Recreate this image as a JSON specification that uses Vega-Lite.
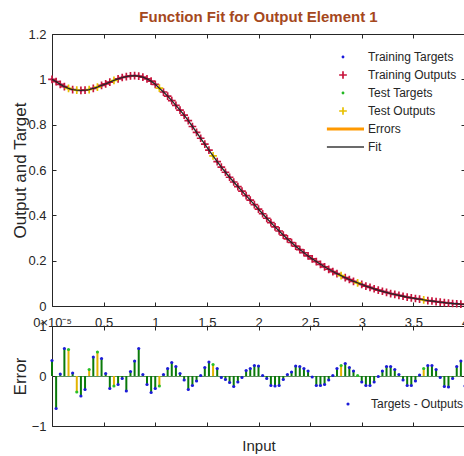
{
  "$schema": "https://vega.github.io/schema/vega-lite/v6.json",
  "padding": {"left": 10, "top": 9, "right": 0, "bottom": 0},
  "background": "white",
  "config": {
    "view": {"stroke": "#262626", "strokeWidth": 1},
    "axis": {"labelColor": "#262626", "tickColor": "#262626", "titleColor": "#262626", "labelFont": "Liberation Sans", "labelFontSize": 13, "titleFont": "Liberation Sans", "titleFontWeight": "normal", "titleFontSize": 17, "grid": false, "domain": false, "tickSize": -4, "tickWidth": 1}
  },
  "datasets": {
    "pts": [
      {"x": 0, "t": 1.000, "e": 0.31, "s": "train"},
      {"x": 0.04, "t": 0.990, "e": -0.65, "s": "train"},
      {"x": 0.08, "t": 0.978, "e": 0.04, "s": "train"},
      {"x": 0.12, "t": 0.968, "e": 0.55, "s": "train"},
      {"x": 0.16, "t": 0.960, "e": 0.53, "s": "test"},
      {"x": 0.2, "t": 0.955, "e": 0.06, "s": "train"},
      {"x": 0.24, "t": 0.952, "e": -0.32, "s": "test"},
      {"x": 0.28, "t": 0.951, "e": -0.40, "s": "train"},
      {"x": 0.32, "t": 0.952, "e": -0.27, "s": "train"},
      {"x": 0.36, "t": 0.955, "e": 0.13, "s": "test"},
      {"x": 0.4, "t": 0.960, "e": 0.38, "s": "train"},
      {"x": 0.44, "t": 0.966, "e": 0.48, "s": "test"},
      {"x": 0.48, "t": 0.973, "e": 0.35, "s": "train"},
      {"x": 0.52, "t": 0.980, "e": 0.05, "s": "train"},
      {"x": 0.56, "t": 0.988, "e": -0.25, "s": "train"},
      {"x": 0.6, "t": 0.995, "e": -0.20, "s": "test"},
      {"x": 0.64, "t": 1.002, "e": -0.17, "s": "train"},
      {"x": 0.68, "t": 1.008, "e": -0.05, "s": "train"},
      {"x": 0.72, "t": 1.012, "e": -0.30, "s": "train"},
      {"x": 0.76, "t": 1.015, "e": 0.09, "s": "train"},
      {"x": 0.8, "t": 1.016, "e": 0.30, "s": "train"},
      {"x": 0.84, "t": 1.0145, "e": 0.55, "s": "train"},
      {"x": 0.88, "t": 1.010, "e": 0.03, "s": "train"},
      {"x": 0.92, "t": 1.002, "e": -0.17, "s": "train"},
      {"x": 0.96, "t": 0.992, "e": -0.33, "s": "train"},
      {"x": 1.0, "t": 0.978, "e": -0.25, "s": "train"},
      {"x": 1.04, "t": 0.961, "e": -0.20, "s": "test"},
      {"x": 1.08, "t": 0.944, "e": 0.03, "s": "train"},
      {"x": 1.12, "t": 0.926, "e": 0.15, "s": "train"},
      {"x": 1.16, "t": 0.906, "e": 0.27, "s": "train"},
      {"x": 1.2, "t": 0.885, "e": 0.19, "s": "train"},
      {"x": 1.24, "t": 0.864, "e": 0.05, "s": "train"},
      {"x": 1.28, "t": 0.842, "e": -0.08, "s": "train"},
      {"x": 1.32, "t": 0.818, "e": -0.27, "s": "train"},
      {"x": 1.36, "t": 0.792, "e": -0.19, "s": "train"},
      {"x": 1.4, "t": 0.766, "e": -0.10, "s": "train"},
      {"x": 1.44, "t": 0.740, "e": 0.01, "s": "train"},
      {"x": 1.48, "t": 0.714, "e": 0.17, "s": "train"},
      {"x": 1.52, "t": 0.688, "e": 0.28, "s": "train"},
      {"x": 1.56, "t": 0.662, "e": 0.23, "s": "test"},
      {"x": 1.6, "t": 0.637, "e": 0.15, "s": "train"},
      {"x": 1.64, "t": 0.613, "e": -0.03, "s": "train"},
      {"x": 1.68, "t": 0.590, "e": -0.07, "s": "train"},
      {"x": 1.72, "t": 0.568, "e": -0.13, "s": "train"},
      {"x": 1.76, "t": 0.547, "e": -0.21, "s": "train"},
      {"x": 1.8, "t": 0.527, "e": -0.12, "s": "train"},
      {"x": 1.84, "t": 0.507, "e": -0.03, "s": "train"},
      {"x": 1.88, "t": 0.487, "e": 0.11, "s": "train"},
      {"x": 1.92, "t": 0.467, "e": 0.15, "s": "train"},
      {"x": 1.96, "t": 0.447, "e": 0.21, "s": "train"},
      {"x": 2.0, "t": 0.427, "e": 0.20, "s": "train"},
      {"x": 2.04, "t": 0.407, "e": 0.01, "s": "train"},
      {"x": 2.08, "t": 0.387, "e": -0.05, "s": "train"},
      {"x": 2.12, "t": 0.368, "e": -0.19, "s": "train"},
      {"x": 2.16, "t": 0.349, "e": -0.20, "s": "train"},
      {"x": 2.2, "t": 0.331, "e": -0.19, "s": "train"},
      {"x": 2.24, "t": 0.313, "e": -0.07, "s": "train"},
      {"x": 2.28, "t": 0.296, "e": 0.03, "s": "train"},
      {"x": 2.32, "t": 0.280, "e": 0.08, "s": "train"},
      {"x": 2.36, "t": 0.264, "e": 0.20, "s": "train"},
      {"x": 2.4, "t": 0.249, "e": 0.19, "s": "train"},
      {"x": 2.44, "t": 0.235, "e": 0.15, "s": "train"},
      {"x": 2.48, "t": 0.221, "e": 0.10, "s": "train"},
      {"x": 2.52, "t": 0.208, "e": -0.02, "s": "train"},
      {"x": 2.56, "t": 0.196, "e": -0.19, "s": "train"},
      {"x": 2.6, "t": 0.184, "e": -0.19, "s": "train"},
      {"x": 2.64, "t": 0.173, "e": -0.17, "s": "train"},
      {"x": 2.68, "t": 0.162, "e": -0.08, "s": "train"},
      {"x": 2.72, "t": 0.152, "e": 0.01, "s": "train"},
      {"x": 2.76, "t": 0.143, "e": 0.15, "s": "train"},
      {"x": 2.8, "t": 0.134, "e": 0.21, "s": "test"},
      {"x": 2.84, "t": 0.125, "e": 0.25, "s": "train"},
      {"x": 2.88, "t": 0.117, "e": 0.17, "s": "train"},
      {"x": 2.92, "t": 0.109, "e": 0.10, "s": "train"},
      {"x": 2.96, "t": 0.102, "e": 0.01, "s": "test"},
      {"x": 3.0, "t": 0.095, "e": -0.12, "s": "train"},
      {"x": 3.04, "t": 0.088, "e": -0.19, "s": "train"},
      {"x": 3.08, "t": 0.082, "e": -0.19, "s": "train"},
      {"x": 3.12, "t": 0.076, "e": -0.12, "s": "train"},
      {"x": 3.16, "t": 0.070, "e": -0.01, "s": "train"},
      {"x": 3.2, "t": 0.065, "e": 0.10, "s": "train"},
      {"x": 3.24, "t": 0.060, "e": 0.19, "s": "train"},
      {"x": 3.28, "t": 0.055, "e": 0.19, "s": "train"},
      {"x": 3.32, "t": 0.051, "e": 0.13, "s": "train"},
      {"x": 3.36, "t": 0.047, "e": 0.03, "s": "train"},
      {"x": 3.4, "t": 0.043, "e": -0.08, "s": "train"},
      {"x": 3.44, "t": 0.039, "e": -0.19, "s": "train"},
      {"x": 3.48, "t": 0.036, "e": -0.19, "s": "train"},
      {"x": 3.52, "t": 0.033, "e": -0.10, "s": "train"},
      {"x": 3.56, "t": 0.030, "e": 0.02, "s": "train"},
      {"x": 3.6, "t": 0.027, "e": 0.15, "s": "test"},
      {"x": 3.64, "t": 0.024, "e": 0.21, "s": "train"},
      {"x": 3.68, "t": 0.022, "e": 0.21, "s": "train"},
      {"x": 3.72, "t": 0.019, "e": 0.13, "s": "train"},
      {"x": 3.76, "t": 0.017, "e": -0.03, "s": "train"},
      {"x": 3.8, "t": 0.015, "e": -0.21, "s": "train"},
      {"x": 3.84, "t": 0.013, "e": -0.22, "s": "train"},
      {"x": 3.88, "t": 0.011, "e": -0.05, "s": "train"},
      {"x": 3.92, "t": 0.010, "e": 0.19, "s": "train"},
      {"x": 3.96, "t": 0.008, "e": 0.30, "s": "train"},
      {"x": 4.0, "t": 0.007, "e": -0.20, "s": "train"}
    ]
  },
  "resolve": {"scale": {"color": "independent", "shape": "independent"}},
  "spacing": 20,
  "bounds": "flush",
  "vconcat": [
    {
      "width": 413,
      "height": 272,
      "title": {"text": "Function Fit for Output Element 1", "frame": "group", "anchor": "middle", "offset": -9, "baseline": "alphabetic", "fontSize": 15, "font": "Liberation Sans", "fontWeight": "bold", "color": "#a5481d"},
      "data": {"name": "pts"},
      "resolve": {"axis": {"x": "independent", "y": "independent"}},
      "layer": [
        {
          "transform": [{"filter": "datum.s == 'train'"}],
          "mark": {"type": "point", "filled": true, "opacity": 1, "size": 196},
          "encoding": {
            "x": {"field": "x", "type": "quantitative", "scale": {"domain": [0, 4], "nice": false},
              "axis": {"values": [0, 0.5, 1, 1.5, 2, 2.5, 3, 3.5, 4], "format": "~g", "labelExpr": "datum.value == 0 ? '0×10⁻⁵' : datum.label", "labelFlush": false, "labelPadding": 14, "labelBaseline": "top", "title": null}},
            "y": {"field": "t", "type": "quantitative", "scale": {"domain": [0, 1.2], "nice": false},
              "axis": {"values": [0, 0.2, 0.4, 0.6, 0.8, 1, 1.2], "format": "~g", "labelPadding": 10, "title": "Output and Target", "titleX": -32, "titleBaseline": "middle"}},
            "color": {"datum": "Training Targets", "type": "nominal", "scale": {"domain": ["Training Targets", "Training Outputs", "Test Targets", "Test Outputs", "Errors", "Fit"], "range": ["#1a1adb", "#c8143c", "#22b822", "#e8c000", "#ff9900", "#3a3a3a"]},
              "legend": {"orient": "none", "legendX": 284, "legendY": 16, "title": null, "symbolSize": 196, "labelOffset": 18, "labelFontSize": 12, "labelFont": "Liberation Sans", "labelColor": "#262626", "rowPadding": 5, "padding": 0, "symbolStrokeWidth": 0}},
            "shape": {"datum": "Training Targets", "type": "nominal", "scale": {"domain": ["Training Targets", "Training Outputs", "Test Targets", "Test Outputs", "Errors", "Fit"], "range": ["M0.2,0A0.2,0.2,0,1,1,-0.2,0A0.2,0.2,0,1,1,0.2,0Z", "M-0.12,-0.55H0.12V-0.12H0.55V0.12H0.12V0.55H-0.12V0.12H-0.55V-0.12H-0.12Z", "M0.2,0A0.2,0.2,0,1,1,-0.2,0A0.2,0.2,0,1,1,0.2,0Z", "M-0.12,-0.55H0.12V-0.12H0.55V0.12H0.12V0.55H-0.12V0.12H-0.55V-0.12H-0.12Z", "M-2.3,-0.2H3V0.2H-2.3Z", "M-2.3,-0.09H3V0.09H-2.3Z"]},
              "legend": {"orient": "none", "legendX": 284, "legendY": 16, "title": null, "symbolSize": 196, "labelOffset": 18, "labelFontSize": 12, "labelFont": "Liberation Sans", "labelColor": "#262626", "rowPadding": 5, "padding": 0, "symbolStrokeWidth": 0}}
          }
        },
        {
          "transform": [{"filter": "datum.s == 'train'"}],
          "mark": {"type": "point", "filled": true, "opacity": 1, "size": 196},
          "encoding": {
            "x": {"field": "x", "type": "quantitative", "axis": null},
            "y": {"field": "t", "type": "quantitative", "axis": null},
            "color": {"datum": "Training Outputs", "type": "nominal"},
            "shape": {"datum": "Training Outputs", "type": "nominal"}
          }
        },
        {
          "transform": [{"filter": "datum.s == 'test'"}],
          "mark": {"type": "point", "filled": true, "opacity": 1, "size": 196},
          "encoding": {
            "x": {"field": "x", "type": "quantitative", "axis": null},
            "y": {"field": "t", "type": "quantitative", "axis": null},
            "color": {"datum": "Test Targets", "type": "nominal"},
            "shape": {"datum": "Test Targets", "type": "nominal"}
          }
        },
        {
          "transform": [{"filter": "datum.s == 'test'"}],
          "mark": {"type": "point", "filled": true, "opacity": 1, "size": 196},
          "encoding": {
            "x": {"field": "x", "type": "quantitative", "axis": null},
            "y": {"field": "t", "type": "quantitative", "axis": null},
            "color": {"datum": "Test Outputs", "type": "nominal"},
            "shape": {"datum": "Test Outputs", "type": "nominal"}
          }
        },
        {
          "mark": {"type": "line", "color": "#262626", "strokeWidth": 1.3},
          "encoding": {
            "x": {"field": "x", "type": "quantitative", "axis": {"orient": "top", "labels": false, "title": null, "values": [0, 0.5, 1, 1.5, 2, 2.5, 3, 3.5, 4]}},
            "y": {"field": "t", "type": "quantitative", "axis": {"orient": "right", "labels": false, "title": null, "values": [0, 0.2, 0.4, 0.6, 0.8, 1, 1.2]}}
          }
        }
      ]
    },
    {
      "width": 413,
      "height": 100,
      "data": {"name": "pts"},
      "resolve": {"axis": {"x": "independent", "y": "independent"}},
      "layer": [
        {
          "transform": [{"filter": "datum.s == 'train'"}],
          "mark": {"type": "rule", "color": "#0a7a0a", "strokeWidth": 2},
          "encoding": {
            "x": {"field": "x", "type": "quantitative", "axis": null},
            "y": {"field": "e", "type": "quantitative", "axis": null},
            "y2": {"datum": 0}
          }
        },
        {
          "transform": [{"filter": "datum.s == 'test'"}],
          "mark": {"type": "rule", "color": "#e2b400", "strokeWidth": 2},
          "encoding": {
            "x": {"field": "x", "type": "quantitative", "axis": null},
            "y": {"field": "e", "type": "quantitative", "axis": null},
            "y2": {"datum": 0}
          }
        },
        {
          "transform": [{"filter": "datum.s == 'train'"}],
          "mark": {"type": "point", "filled": true, "opacity": 1, "size": 10},
          "encoding": {
            "x": {"field": "x", "type": "quantitative", "scale": {"domain": [0, 4], "nice": false},
              "axis": {"values": [0, 0.5, 1, 1.5, 2, 2.5, 3, 3.5, 4], "labels": false, "title": "Input", "titleFontSize": 15, "titleY": 12, "titleBaseline": "top"}},
            "y": {"field": "e", "type": "quantitative", "scale": {"domain": [-1, 1], "nice": false},
              "axis": {"values": [-1, 0, 1], "format": "~g", "labelPadding": 10, "title": "Error", "titleX": -32, "titleBaseline": "middle", "grid": true, "gridWidth": 1.2, "gridColor": {"condition": {"test": "datum.value == 0", "value": "#5e8f5e"}, "value": "transparent"}}},
            "color": {"datum": "Targets - Outputs", "type": "nominal", "scale": {"range": ["#1c1cd8"]},
              "legend": {"orient": "none", "legendX": 290, "legendY": 72, "title": null, "symbolSize": 10, "labelOffset": 17, "labelFontSize": 12, "labelFont": "Liberation Sans", "labelColor": "#262626", "padding": 0, "symbolStrokeWidth": 0}}
          }
        },
        {
          "transform": [{"filter": "datum.s == 'test'"}],
          "mark": {"type": "point", "filled": true, "opacity": 1, "size": 10, "color": "#28c028"},
          "encoding": {
            "x": {"field": "x", "type": "quantitative", "axis": {"orient": "top", "labels": false, "title": null, "values": [0, 0.5, 1, 1.5, 2, 2.5, 3, 3.5, 4]}},
            "y": {"field": "e", "type": "quantitative", "axis": {"orient": "right", "labels": false, "title": null, "values": [-1, 0, 1]}}
          }
        }
      ]
    }
  ]
}
